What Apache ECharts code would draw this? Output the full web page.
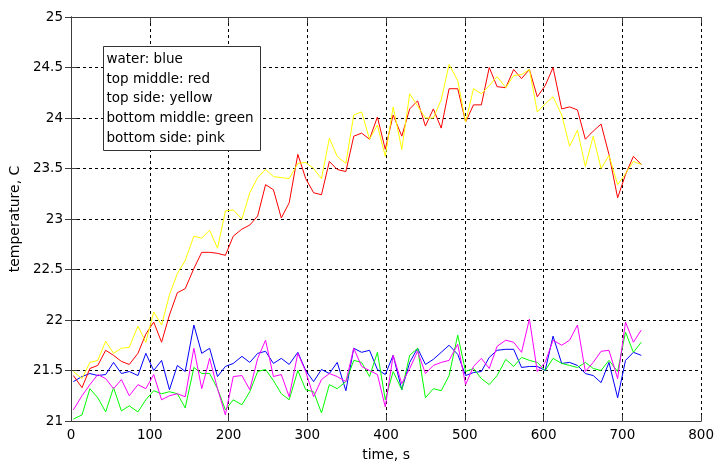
<!DOCTYPE html>
<html>
<head>
<meta charset="utf-8">
<title>Temperature vs time</title>
<script src="https://cdn.jsdelivr.net/npm/echarts@6/dist/echarts.min.js"></script>
<style>
  html, body { margin: 0; padding: 0; background: #ffffff; }
  #chart { width: 717px; height: 467px; }
</style>
</head>
<body>
<div id="chart"></div>
<script>
// sample times, s
const times = [3, 14, 24, 34, 44, 54, 64, 74, 85, 95, 105, 115, 125, 135, 145, 156, 166, 176, 186, 196,
  206, 217, 227, 237, 247, 257, 267, 277, 288, 298, 308, 318, 328, 338, 349, 359, 369, 379, 389, 399,
  409, 420, 430, 440, 450, 460, 470, 480, 491, 501, 511, 521, 531, 541, 552, 562, 572, 582, 592, 602,
  612, 623, 633, 643, 653, 663, 673, 683, 694, 704, 714, 724];

// water (blue)
const water = [21.39, 21.44, 21.47, 21.45, 21.46, 21.58, 21.47, 21.49, 21.45, 21.67, 21.50, 21.60, 21.31, 21.55, 21.49, 21.95, 21.67, 21.72, 21.44, 21.54,
  21.57, 21.64, 21.58, 21.67, 21.69, 21.57, 21.62, 21.56, 21.68, 21.50, 21.39, 21.51, 21.47, 21.58, 21.30, 21.72, 21.68, 21.70, 21.51, 21.46,
  21.65, 21.31, 21.58, 21.72, 21.56, 21.61, 21.68, 21.75, 21.66, 21.45, 21.48, 21.49, 21.63, 21.70, 21.71, 21.71, 21.53, 21.54, 21.54, 21.50,
  21.84, 21.57, 21.58, 21.55, 21.47, 21.45, 21.38, 21.58, 21.23, 21.60, 21.68, 21.65];

// top middle (red)
const topMiddle = [21.45, 21.33, 21.52, 21.55, 21.70, 21.65, 21.59, 21.56, 21.67, 21.86, 21.98, 21.78, 22.05, 22.27, 22.31, 22.51, 22.67, 22.67, 22.66, 22.64,
  22.83, 22.90, 22.94, 23.03, 23.34, 23.29, 23.01, 23.16, 23.64, 23.40, 23.26, 23.24, 23.57, 23.49, 23.47, 23.82, 23.85, 23.79, 24.01, 23.69,
  24.03, 23.82, 24.09, 24.17, 23.92, 24.09, 23.90, 24.29, 24.29, 23.96, 24.13, 24.13, 24.50, 24.31, 24.30, 24.48, 24.39, 24.48, 24.21, 24.32,
  24.50, 24.09, 24.11, 24.08, 23.79, 23.87, 23.94, 23.64, 23.21, 23.44, 23.62, 23.54];

// top side (yellow)
const topSide = [21.49, 21.42, 21.58, 21.60, 21.79, 21.67, 21.72, 21.73, 21.94, 21.78, 22.08, 21.95, 22.25, 22.46, 22.59, 22.83, 22.81, 22.89, 22.71, 23.08,
  23.09, 23.00, 23.26, 23.41, 23.49, 23.42, 23.41, 23.40, 23.55, 23.56, 23.50, 23.40, 23.80, 23.62, 23.55, 24.03, 24.06, 23.79, 23.93, 23.62,
  24.11, 23.69, 24.24, 24.12, 24.00, 24.00, 24.18, 24.53, 24.37, 23.96, 24.29, 24.24, 24.32, 24.41, 24.30, 24.42, 24.43, 24.48, 24.06, 24.14,
  24.21, 24.03, 23.72, 23.88, 23.52, 23.82, 23.50, 23.63, 23.34, 23.45, 23.57, 23.54];

// bottom middle (green)
const bottomMiddle = [21.02, 21.06, 21.32, 21.23, 21.09, 21.33, 21.10, 21.15, 21.09, 21.21, 21.30, 21.27, 21.29, 21.27, 21.13, 21.53, 21.47, 21.47, 21.32, 21.11,
  21.21, 21.16, 21.29, 21.49, 21.51, 21.40, 21.27, 21.21, 21.50, 21.31, 21.29, 21.08, 21.36, 21.32, 21.39, 21.60, 21.58, 21.44, 21.68, 21.21,
  21.49, 21.31, 21.65, 21.72, 21.23, 21.32, 21.30, 21.45, 21.85, 21.49, 21.52, 21.42, 21.36, 21.45, 21.61, 21.54, 21.63, 21.60, 21.58, 21.50,
  21.62, 21.57, 21.55, 21.53, 21.58, 21.52, 21.50, 21.60, 21.49, 21.88, 21.68, 21.78];

// bottom side (pink)
const bottomSide = [21.11, 21.25, 21.36, 21.46, 21.42, 21.32, 21.41, 21.25, 21.36, 21.32, 21.46, 21.21, 21.25, 21.27, 21.24, 21.72, 21.32, 21.62, 21.32, 21.06,
  21.44, 21.45, 21.31, 21.62, 21.80, 21.44, 21.46, 21.24, 21.67, 21.49, 21.24, 21.41, 21.47, 21.44, 21.39, 21.72, 21.54, 21.50, 21.46, 21.14,
  21.65, 21.37, 21.52, 21.69, 21.47, 21.55, 21.58, 21.60, 21.76, 21.36, 21.54, 21.62, 21.52, 21.74, 21.80, 21.78, 21.68, 22.01, 21.49, 21.58,
  21.80, 21.75, 21.80, 21.95, 21.49, 21.58, 21.69, 21.70, 21.42, 21.98, 21.78, 21.90];

const legendLines = ['water: blue', 'top middle: red', 'top side: yellow', 'bottom middle: green', 'bottom side: pink'];

const FONT = 'DejaVu Sans';
const AXIS_COLOR = '#3c3c3c';

function pairs(vals) {
  return times.map((t, i) => [t, vals[i]]);
}

function lineSeries(name, vals, color) {
  return {
    name: name,
    type: 'line',
    data: pairs(vals),
    showSymbol: false,
    symbol: 'none',
    lineStyle: { color: color, width: 1 },
    itemStyle: { color: color },
    animation: false,
    z: 3
  };
}

const gridLine = { show: true, lineStyle: { color: '#000000', type: [3, 3], width: 1 } };
const tickIn = { show: true, inside: true, length: 6, lineStyle: { color: AXIS_COLOR } };

const chart = echarts.init(document.getElementById('chart'), null, { renderer: 'canvas' });
chart.setOption({
  backgroundColor: '#ffffff',
  animation: false,
  grid: { left: 71, right: 12, top: 17, bottom: 44, containLabel: false },
  xAxis: [
    {
      type: 'value', min: 0, max: 800, interval: 100, position: 'bottom',
      name: 'time, s', nameLocation: 'middle', nameGap: 27,
      nameTextStyle: { fontFamily: FONT, fontSize: 14, color: '#000' },
      axisLine: { show: true, lineStyle: { color: AXIS_COLOR } },
      axisTick: tickIn,
      axisLabel: { fontFamily: FONT, fontSize: 13.5, color: '#000', margin: 7 },
      splitLine: gridLine
    },
    {
      type: 'value', min: 0, max: 800, interval: 100, position: 'top',
      axisLine: { show: true, lineStyle: { color: AXIS_COLOR } },
      axisTick: tickIn, axisLabel: { show: false }, splitLine: { show: false }
    }
  ],
  yAxis: [
    {
      type: 'value', min: 21, max: 25, interval: 0.5, position: 'left',
      name: 'temperature, C', nameLocation: 'middle', nameGap: 46,
      nameTextStyle: { fontFamily: FONT, fontSize: 14, color: '#000' },
      axisLine: { show: true, lineStyle: { color: AXIS_COLOR } },
      axisTick: tickIn,
      axisLabel: { fontFamily: FONT, fontSize: 13.5, color: '#000', margin: 8 },
      splitLine: gridLine
    },
    {
      type: 'value', min: 21, max: 25, interval: 0.5, position: 'right',
      axisLine: { show: true, lineStyle: { color: AXIS_COLOR } },
      axisTick: tickIn, axisLabel: { show: false }, splitLine: { show: false }
    }
  ],
  series: [
    lineSeries('water', water, '#0000ff'),
    lineSeries('top middle', topMiddle, '#ff0000'),
    lineSeries('top side', topSide, '#ffff00'),
    lineSeries('bottom middle', bottomMiddle, '#00ff00'),
    lineSeries('bottom side', bottomSide, '#ff00ff')
  ],
  graphic: [
    {
      type: 'group', left: 103, top: 46, z: 100, zlevel: 1,
      children: [
        {
          type: 'rect', z: 100, zlevel: 1,
          shape: { x: 0, y: 0, width: 157, height: 104 },
          style: { fill: '#ffffff', stroke: '#333333', lineWidth: 1 }
        },
        {
          type: 'text', x: 3, y: 3, z: 101, zlevel: 1,
          style: {
            text: legendLines.join('\n'),
            font: '13.5px "DejaVu Sans"',
            fill: '#000000',
            lineHeight: 19.7
          }
        }
      ]
    }
  ]
});
</script>
</body>
</html>
